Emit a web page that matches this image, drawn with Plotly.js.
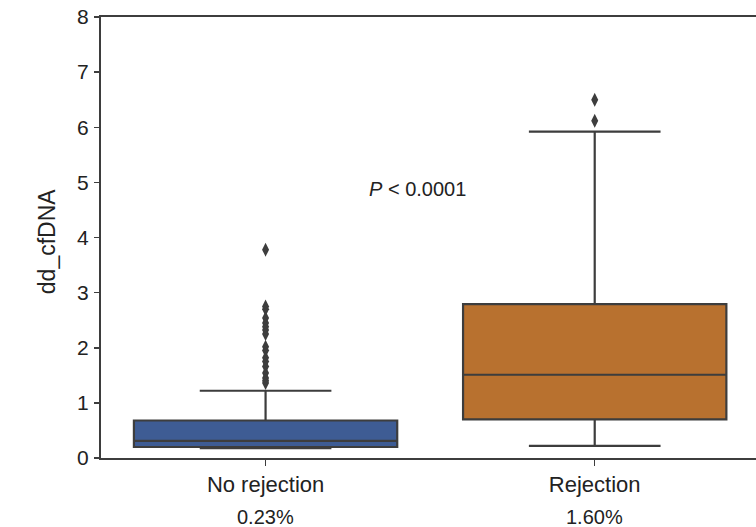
<!DOCTYPE html>
<html><head><meta charset="utf-8">
<script src="https://cdn.plot.ly/plotly-3.0.1.min.js"></script>
<style>html,body{margin:0;padding:0;background:#fff}</style>
</head><body><div id="chart" style="width:756px;height:527px"></div>
<script>
// ---- data ----
const categories = ['No rejection', 'Rejection'];
const percentLabels = ['0.23%', '1.60%'];
const q1 = [0.20, 0.70];
const medians = [0.31, 1.51];
const q3 = [0.68, 2.79];
const lowerFence = [0.18, 0.22];
const upperFence = [1.22, 5.92];
const outliersNoRejection = [3.78, 2.75, 2.70, 2.54, 2.45, 2.38, 2.32, 2.25, 2.02, 1.95, 1.82, 1.75, 1.66, 1.54, 1.45, 1.40, 1.36];
const outliersRejection = [6.12, 6.50];
const pValueText = '<i>P</i> &lt; 0.0001';
const pValuePos = {x: 0.463, y: 4.88};
const boxColors = ['#3e5c94', '#b8712f'];

const lineCol = '#3d3d3d';
const fontFam = 'Liberation Sans, Arial, sans-serif';

const traces = [];
categories.forEach((c, i) => {
  traces.push({
    type: 'box', x: [c], q1: [q1[i]], median: [medians[i]], q3: [q3[i]],
    lowerfence: [lowerFence[i]], upperfence: [upperFence[i]],
    boxpoints: false, width: 0.8, whiskerwidth: 0.5,
    fillcolor: boxColors[i], line: {color: lineCol, width: 2.2},
    showlegend: false, hoverinfo: 'skip'
  });
});
const outlierSets = [outliersNoRejection, outliersRejection];
outlierSets.forEach((vals, i) => {
  traces.push({
    type: 'scatter', mode: 'markers',
    x: vals.map(() => categories[i]), y: vals,
    marker: {symbol: 'diamond-tall', size: 10, color: lineCol, line: {width: 0}},
    showlegend: false, hoverinfo: 'skip'
  });
});

const annotations = categories.map((c, i) => ({
  xref: 'x', yref: 'paper', x: c, y: -0.134, yanchor: 'middle', xanchor: 'center',
  text: percentLabels[i], showarrow: false, font: {family: fontFam, size: 20, color: '#222'}
}));
annotations.push({
  xref: 'x', yref: 'y', x: pValuePos.x, y: pValuePos.y, xanchor: 'center', yanchor: 'middle',
  text: pValueText, showarrow: false, font: {family: fontFam, size: 20, color: '#222'}
});
annotations.push({
  xref: 'paper', yref: 'paper', x: -0.082, y: 0.49, xanchor: 'center', yanchor: 'middle',
  text: 'dd_cfDNA', textangle: -90, showarrow: false, font: {family: fontFam, size: 23, color: '#222'}
});

const layout = {
  width: 756, height: 527,
  margin: {l: 101, r: 0, t: 17, b: 69, pad: 0},
  paper_bgcolor: '#fff', plot_bgcolor: '#fff',
  boxmode: 'overlay',
  font: {family: fontFam, color: '#222'},
  xaxis: {
    type: 'category', categoryorder: 'array', categoryarray: categories,
    range: [-0.5, 1.49], showline: true, mirror: true, linecolor: lineCol, linewidth: 2,
    ticks: 'outside', ticklen: 6, tickwidth: 1.5, tickcolor: lineCol,
    tickfont: {family: fontFam, size: 22, color: '#222'},
    showgrid: false, zeroline: false, fixedrange: true
  },
  yaxis: {
    range: [0, 8], dtick: 1, tick0: 0, showline: true, linecolor: lineCol, linewidth: 2,
    ticks: 'outside', ticklen: 5, tickwidth: 1.5, tickcolor: lineCol,
    ticklabelstandoff: 1,
    tickfont: {family: fontFam, size: 21, color: '#222'},
    showgrid: false, zeroline: false, fixedrange: true
  },
  annotations: annotations
};

Plotly.newPlot('chart', traces, layout, {displayModeBar: false, staticPlot: true});
</script>
</body></html>
